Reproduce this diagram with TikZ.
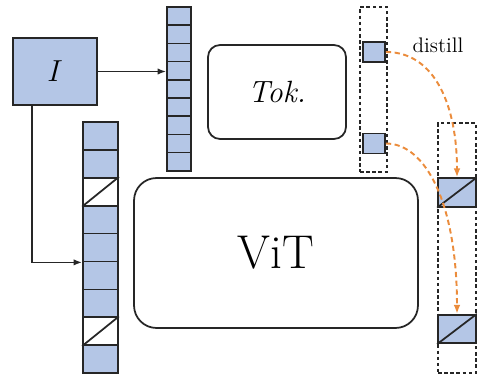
\documentclass[tikz,border=0pt]{standalone}
\usepackage{amsmath,amssymb}
\usepackage{xcolor}
\usepackage{tikz}
\usetikzlibrary{arrows.meta, positioning, calc}
\definecolor{cellblue}{RGB}{180,198,230}
\definecolor{distorange}{RGB}{235,140,60}
\begin{document}
\begin{tikzpicture}[
  x=0.02cm, y=0.02cm,
  imgbox/.style={rectangle, draw=black!85, line width=1pt, fill=cellblue, minimum width=1.68cm, minimum height=1.34cm, inner sep=0pt, font=\fontsize{19}{22}\selectfont},
  tokcell/.style={rectangle, draw=black!85, line width=1pt, fill=cellblue, minimum width=0.48cm, minimum height=0.364cm, inner sep=0pt},
  seqcell/.style={rectangle, draw=black!85, line width=1pt, fill=cellblue, minimum width=0.70cm, minimum height=0.558cm, inner sep=0pt},
  maskcell/.style={seqcell, fill=white},
  block/.style={rectangle, draw=black!85, line width=1pt, align=center},
  clscell/.style={rectangle, draw=black!85, line width=1pt, fill=cellblue, minimum width=0.44cm, minimum height=0.40cm, inner sep=0pt},
  outcell/.style={rectangle, draw=black!85, line width=1pt, fill=cellblue, minimum width=0.76cm, minimum height=0.57cm, inner sep=0pt},
  dashcol/.style={rectangle, draw=black!85, line width=1pt, dash pattern=on 2pt off 1.5pt, inner sep=0pt},
  arr/.style={-{Latex[length=1.7mm]}, line width=0.9pt, black!85},
  dist/.style={-{Latex[length=1.8mm]}, line width=1.1pt, distorange, dash pattern=on 3pt off 2pt}
]
\useasboundingbox (0,0) rectangle (477,376);
\node[imgbox] (img) at (55,304.5) {$I$};
\foreach \i in {0,...,8}
  \node[tokcell] (t\i) at (179,{359.9-18.2*\i}) {};
\foreach \i/\st in {0/seqcell,1/seqcell,2/maskcell,3/seqcell,4/seqcell,5/seqcell,6/seqcell,7/maskcell,8/seqcell}
  \node[\st] (s\i) at (100.5,{240.05-27.9*\i}) {};
\foreach \i in {2,7}
  \draw[line width=1pt, black!85] (s\i.south west) -- (s\i.north east);
\node[block, rounded corners=0.24cm, minimum width=2.76cm, minimum height=1.88cm, font=\fontsize{17.5}{20}\selectfont\itshape] (tok) at (277,284) {Tok.};
\node[block, rounded corners=0.45cm, minimum width=5.68cm, minimum height=3cm, font=\fontsize{27}{30}\selectfont] (vit) at (276,123) {ViT};
\node[dashcol, minimum width=0.54cm, minimum height=3.3cm] (tcol) at (373.5,286.5) {};
\node[clscell] (c1) at (374,324) {};
\node[clscell] (c2) at (374,232.5) {};
\node[dashcol, minimum width=0.76cm, minimum height=5cm] (ocol) at (457,128) {};
\node[outcell] (o1) at (457,183.5) {};
\node[outcell] (o2) at (457,47) {};
\foreach \n in {o1,o2}
  \draw[line width=1pt, black!85] (\n.south west) -- (\n.north east);
\node[font=\fontsize{12}{14}\selectfont] (lbl) at (438,331) {distill};
\draw[arr] (img.east) -- (img.east -| t0.west);
\draw[arr] ([xshift=0.4cm]img.south west) |- (s4.south west);
\draw[dist] (c1.east) .. controls +(50,0) and +(0,70) .. (o1.north);
\draw[dist] (c2.east) .. controls +(40,0) and +(0,110) .. (o2.north);
\end{tikzpicture}
\end{document}
